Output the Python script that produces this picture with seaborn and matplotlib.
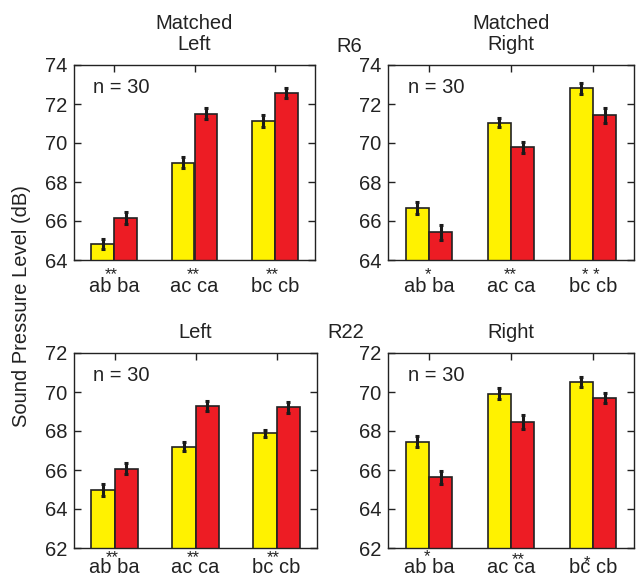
import numpy as np
import pandas as pd
import matplotlib
matplotlib.use("Agg")
import matplotlib.pyplot as plt
import matplotlib.transforms as mtransforms
import seaborn as sns

# ---------------- data ----------------
categories = ["ab ba", "ac ca", "bc cb"]
conditions = ["first", "second"]

r6_left_first = [64.82, 69.00, 71.12]
r6_left_second = [66.17, 71.50, 72.55]
r6_left_err_first = [0.28, 0.30, 0.30]
r6_left_err_second = [0.30, 0.28, 0.25]

r6_right_first = [66.68, 71.05, 72.80]
r6_right_second = [65.42, 69.78, 71.42]
r6_right_err_first = [0.32, 0.25, 0.27]
r6_right_err_second = [0.37, 0.27, 0.37]

r22_left_first = [64.96, 67.20, 67.88]
r22_left_second = [66.07, 69.28, 69.21]
r22_left_err_first = [0.30, 0.23, 0.19]
r22_left_err_second = [0.30, 0.26, 0.30]

r22_right_first = [67.45, 69.92, 70.50]
r22_right_second = [65.62, 68.46, 69.70]
r22_right_err_first = [0.27, 0.28, 0.26]
r22_right_err_second = [0.35, 0.38, 0.26]

# significance marks per panel: (text, x offset in category units, baseline y in axes fraction)
sig_r6_left = [("**", -0.04, -0.10), ("**", -0.02, -0.10), ("**", -0.03, -0.10)]
sig_r6_right = [("*", -0.01, -0.10), ("**", -0.01, -0.10), ("* *", -0.03, -0.10)]
sig_r22_left = [("**", -0.03, -0.074), ("**", -0.03, -0.074), ("**", -0.04, -0.074)]
sig_r22_right = [("*", -0.02, -0.069), ("**", 0.085, -0.085), ("*", -0.07, -0.10)]

n_label = "n = 30"
ylabel = "Sound Pressure Level (dB)"

# ---------------- style ----------------
sns.set_style("white")
plt.rcParams["font.family"] = ["Liberation Sans", "DejaVu Sans"]
TXT = "#222222"
YELLOW = "#FFF200"
RED = "#ED1C24"
FS = 14.5
FS_SIG = 12

W, H = 637, 581
fig = plt.figure(figsize=(W / 100, H / 100), dpi=100)


def px_axes(x0, y0, x1, y1):
    return fig.add_axes([x0 / W, 1 - y1 / H, (x1 - x0) / W, (y1 - y0) / H])


def panel(ax, first, second, err1, err2, ylim, sigs, xpad):
    df = pd.DataFrame({
        "cat": categories * 2,
        "cond": [conditions[0]] * 3 + [conditions[1]] * 3,
        "val": list(first) + list(second),
    })
    sns.barplot(data=df, x="cat", y="val", hue="cond", order=categories,
                hue_order=conditions, palette=[YELLOW, RED], width=0.57,
                edgecolor="#222222", linewidth=1.2, errorbar=None,
                legend=False, ax=ax, saturation=1)
    errs = list(err1) + list(err2)
    vals = list(first) + list(second)
    bars = [p for p in ax.patches]
    for p, v, e in zip(bars, vals, errs):
        xc = p.get_x() + p.get_width() / 2
        ax.errorbar(xc, v, yerr=e, fmt="none", ecolor="#1a1a1a",
                    elinewidth=2.2, capsize=1.6, capthick=2.2, zorder=5)
    ax.set_ylim(*ylim)
    ax.set_xlim(-0.5, 2.5)
    ax.set_yticks(np.arange(ylim[0], ylim[1] + 0.1, 2))
    ax.set_xlabel("")
    ax.set_ylabel("")
    for s in ax.spines.values():
        s.set_visible(True)
        s.set_color("#222222")
        s.set_linewidth(1.0)
    ax.tick_params(axis="both", direction="in", length=5, width=1,
                   color="#222222", labelsize=FS, labelcolor=TXT)
    ax.tick_params(axis="y", right=True, left=True, pad=5)
    ax.tick_params(axis="x", top=True, bottom=True, pad=xpad)
    ax.text(0.08, 0.887, n_label, transform=ax.transAxes, fontsize=FS,
            color=TXT, va="center", ha="left")
    trans = mtransforms.blended_transform_factory(ax.transData, ax.transAxes)
    for i, (t, dx, yy) in enumerate(sigs):
        ax.text(i + dx, yy, t, transform=trans, ha="center", va="baseline",
                fontsize=FS_SIG, color=TXT)


ax1 = px_axes(74, 65, 315, 260)
ax2 = px_axes(388, 65, 634, 260)
ax3 = px_axes(74, 353, 317, 548)
ax4 = px_axes(388, 353, 634, 548)

panel(ax1, r6_left_first, r6_left_second, r6_left_err_first, r6_left_err_second, (64, 74), sig_r6_left, 12)
panel(ax2, r6_right_first, r6_right_second, r6_right_err_first, r6_right_err_second, (64, 74), sig_r6_right, 12)
panel(ax3, r22_left_first, r22_left_second, r22_left_err_first, r22_left_err_second, (62, 72), sig_r22_left, 7.5)
panel(ax4, r22_right_first, r22_right_second, r22_right_err_first, r22_right_err_second, (62, 72), sig_r22_right, 7.5)


def ftext(x, y, s, **kw):
    fig.text(x / W, 1 - y / H, s, ha="center", va="center", fontsize=FS,
             color=TXT, **kw)


ftext(194, 34, "Matched\nLeft", linespacing=1.15)
ftext(511, 34, "Matched\nRight", linespacing=1.15)
ftext(349, 47, "R6")
ftext(195, 332, "Left")
ftext(511, 332, "Right")
ftext(346, 333, "R22")
ftext(22, 306, ylabel, rotation=90)

fig.savefig("out.png", dpi=100)
